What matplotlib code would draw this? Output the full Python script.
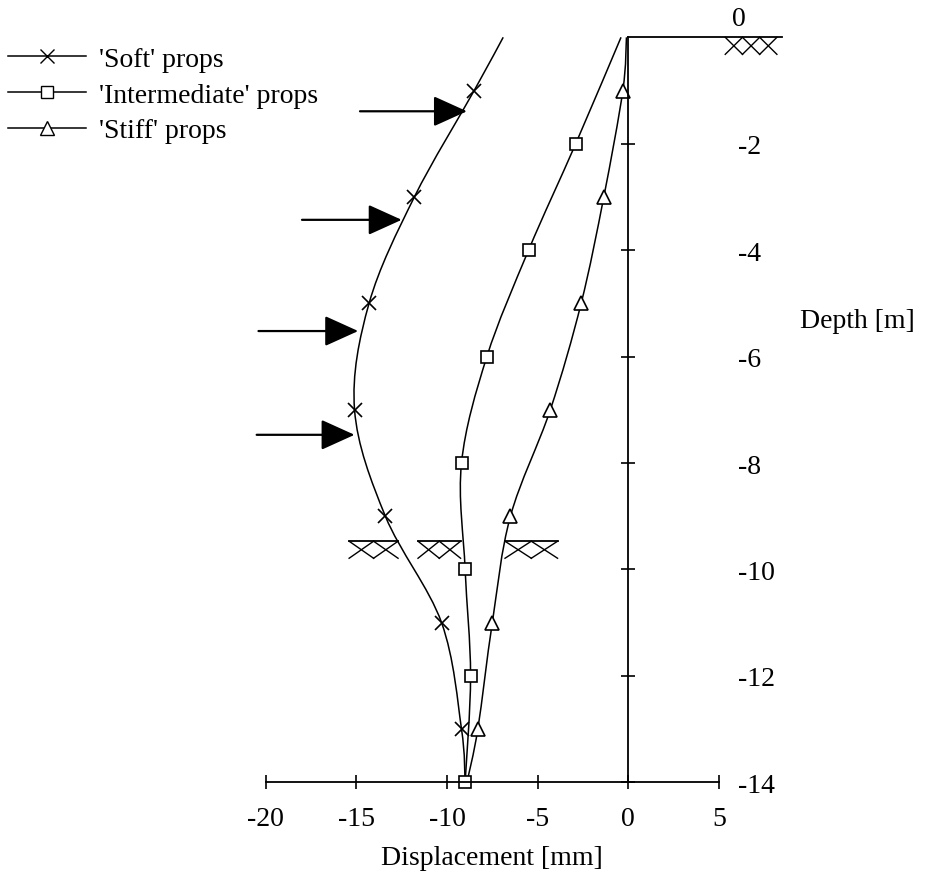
import matplotlib
matplotlib.use('Agg')
from matplotlib import pyplot as plt
from matplotlib.path import Path
from matplotlib.patches import PathPatch
from matplotlib.lines import Line2D
import numpy as np

plt.rcParams['font.family'] = ['Liberation Serif', 'DejaVu Serif']

# depth of the readings [m]
soft_depth = [0, -1, -3, -5, -7, -9, -11, -13, -14]
soft_disp = [-6.9, -8.5, -11.8, -14.3, -15.1, -13.4, -10.3, -9.2, -9.0]

inter_depth = [0, -2, -4, -6, -8, -10, -12, -14]
inter_disp = [-0.4, -2.9, -5.5, -7.8, -9.2, -9.0, -8.7, -9.0]

stiff_depth = [0, -1, -3, -5, -7, -9, -11, -13, -14]
stiff_disp = [-0.1, -0.3, -1.35, -2.6, -4.3, -6.5, -7.5, -8.3, -8.9]

# prop levels [m]
prop_depth = [-1.39, -3.43, -5.52, -7.47]
prop_tip = [-8.9, -12.5, -14.9, -15.1]
prop_tail = [-14.8, -18.0, -20.4, -20.5]

x_ticks = [-20, -15, -10, -5, 0, 5]
y_ticks = [-2, -4, -6, -8, -10, -12, -14]

FS = 20


def smooth_path(xs, ys):
    p = np.column_stack([xs, ys]).astype(float)
    n = len(p)
    verts = [p[0]]
    codes = [Path.MOVETO]
    for i in range(n - 1):
        p0 = p[max(i - 1, 0)]
        p1 = p[i]
        p2 = p[i + 1]
        p3 = p[min(i + 2, n - 1)]
        c1 = p1 + (p2 - p0) / 6.0
        c2 = p2 - (p3 - p1) / 6.0
        verts += [c1, c2, p2]
        codes += [Path.CURVE4] * 3
    return Path(verts, codes)


def ground(ax, a, b, y0, n, top_line=True):
    if top_line:
        ax.plot([a, b], [y0, y0], color='k', lw=1.3)
    w = (b - a) / n
    h = 0.32
    for i in range(n):
        x0 = a + i * w
        ax.plot([x0, x0 + w], [y0 - h, y0], color='k', lw=1.0)
        ax.plot([x0, x0 + w], [y0, y0 - h], color='k', lw=1.0)


fig = plt.figure(figsize=(9.25, 8.78), dpi=100)
ax = fig.add_axes([0, 0, 1, 1])
ax.set_xlim(-34.66, 16.37)
ax.set_ylim(-15.78, 0.72)

for s in ['top', 'left']:
    ax.spines[s].set_visible(False)
ax.spines['right'].set_position(('data', 0))
ax.spines['right'].set_bounds(-14, 0)
ax.spines['bottom'].set_position(('data', -14))
ax.spines['bottom'].set_bounds(-20, 5)
ax.spines['right'].set_linewidth(1.3)
ax.spines['bottom'].set_linewidth(1.3)
ax.yaxis.tick_right()
ax.set_xticks(x_ticks)
ax.set_xticklabels([str(t) for t in x_ticks])
ax.set_yticks(y_ticks)
ax.set_yticklabels([str(t) for t in y_ticks])
ax.tick_params(axis='both', direction='inout', length=10, width=1.2, labelsize=FS)
ax.tick_params(axis='x', pad=12)
ax.tick_params(axis='y', pad=74)
for lab in ax.get_yticklabels():
    lab.set_horizontalalignment('left')
ax.patch.set_alpha(0)

ax.text(6.1, 0.36, '0', fontsize=FS, ha='center', va='center')
ax.text(9.5, -5.33, 'Depth [m]', fontsize=FS, ha='left', va='center')
ax.text(-7.5, -15.41, 'Displacement [mm]', fontsize=FS, ha='center', va='center')

# ground surface
ax.plot([0, 8.5], [0, 0], color='k', lw=1.3)
ground(ax, 5.35, 8.2, 0, 3, top_line=False)
# excavation level
ground(ax, -15.4, -12.7, -9.47, 2)
ground(ax, -11.6, -9.25, -9.47, 2)
ground(ax, -6.8, -3.9, -9.47, 2)

for xs, ys in [(soft_disp, soft_depth), (inter_disp, inter_depth), (stiff_disp, stiff_depth)]:
    ax.add_patch(PathPatch(smooth_path(xs, ys), fill=False, lw=1.1, ec='k'))

ax.plot(soft_disp[1:-1], soft_depth[1:-1], ls='none', marker='x', ms=10.5, mew=1.2, color='k')
ax.plot(stiff_disp[1:-1], stiff_depth[1:-1], ls='none', marker='^', ms=10.5, mew=1.2, mfc='white', mec='k')
ax.plot(inter_disp[1:], inter_depth[1:], ls='none', marker='s', ms=9, mew=1.2, mfc='white', mec='k')

for d, tip, tail in zip(prop_depth, prop_tip, prop_tail):
    ax.annotate('', xy=(tip, d), xytext=(tail, d),
                arrowprops=dict(arrowstyle='-|>,head_length=21,head_width=9.5',
                                mutation_scale=1, lw=1.6, color='k',
                                shrinkA=0, shrinkB=0))

handles = [
    Line2D([], [], color='k', lw=1.1, marker='x', ms=10, mew=1.0),
    Line2D([], [], color='k', lw=1.1, marker='s', ms=9, mew=1.0, mfc='white'),
    Line2D([], [], color='k', lw=1.1, marker='^', ms=10, mew=1.0, mfc='white'),
]
labels = ["'Soft' props", "'Intermediate' props", "'Stiff' props"]
ax.legend(handles, labels, loc='upper left', bbox_to_anchor=(0.009, 0.946),
          frameon=False, fontsize=FS, handlelength=2.8, handletextpad=0.45,
          labelspacing=0.37, borderaxespad=0, borderpad=0)

fig.savefig('out.png', dpi=100)
